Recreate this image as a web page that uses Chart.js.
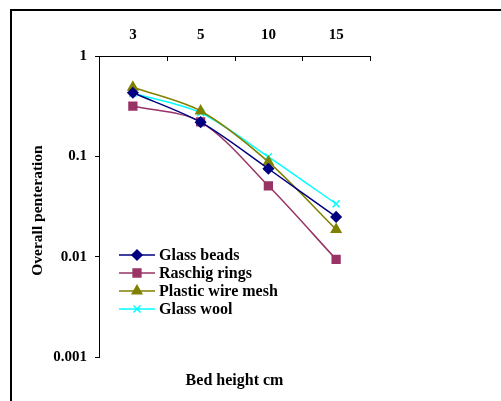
<!DOCTYPE html>
<html>
<head>
<meta charset="utf-8">
<script src="https://cdn.jsdelivr.net/npm/chart.js@4/dist/chart.umd.min.js"></script>
<style>
  html, body { margin: 0; padding: 0; background: #fff; }
  #wrap { width: 501px; height: 401px; position: relative; }
</style>
</head>
<body>
<div id="wrap"><canvas id="myChart" width="501" height="401"></canvas></div>
<script>
// bed heights (cm) and penetration per packing
const bedHeights = ['3', '5', '10', '15'];
const glassBeads = [0.43, 0.219, 0.0752, 0.0249];
const raschigRings = [0.317, 0.221, 0.0508, 0.0094];
const plasticMesh = [0.488, 0.283, 0.088, 0.0187];
const glassWool = [0.425, 0.272, 0.099, 0.0336];
const yTicks = [0.001, 0.01, 0.1, 1];
const yTickLabels = ['0.001', '0.01', '0.1', '1'];

const serif = '"Liberation Serif", "Times New Roman", serif';

const series = [
  { label: 'Glass beads', data: glassBeads, color: '#000080', style: 'rectRot', r: 5 },
  { label: 'Raschig rings', data: raschigRings, color: '#993366', style: 'rect', r: 5.5 },
  { label: 'Plastic wire mesh', data: plasticMesh, color: '#808000', style: 'triangle', r: 5.5 },
  { label: 'Glass wool', data: glassWool, color: '#00FFFF', style: 'crossRot', r: 5 }
];

function drawMarker(ctx, s, x, y) {
  ctx.save();
  ctx.fillStyle = s.color;
  ctx.strokeStyle = s.color;
  ctx.lineWidth = 1.5;
  if (Chart.helpers && Chart.helpers.drawPoint) {
    Chart.helpers.drawPoint(ctx, { pointStyle: s.style, radius: s.r, rotation: 0, borderWidth: 1.5 }, x, y);
  }
  ctx.restore();
}

// frame, inward ticks on the top axis, bottom title, y title and legend
const extras = {
  id: 'extras',
  beforeDraw(chart) {
    const ctx = chart.ctx;
    ctx.save();
    ctx.strokeStyle = '#000';
    ctx.lineWidth = 2;
    ctx.beginPath();
    ctx.moveTo(11, 401);
    ctx.lineTo(11, 10);
    ctx.lineTo(501, 10);
    ctx.stroke();
    ctx.restore();
  },
  afterDraw(chart) {
    const ctx = chart.ctx;
    const xs = chart.scales.x;
    const area = chart.chartArea;
    ctx.save();
    // tick marks between categories, pointing down
    ctx.strokeStyle = '#000';
    ctx.lineWidth = 1;
    const step = (xs.getPixelForValue(1) - xs.getPixelForValue(0));
    for (let i = 0; i <= bedHeights.length; i++) {
      const px = Math.round(xs.getPixelForValue(0) - step / 2 + i * step) + 0.5;
      ctx.beginPath();
      ctx.moveTo(px, area.top);
      ctx.lineTo(px, area.top + 5);
      ctx.stroke();
    }
    ctx.fillStyle = '#000';
    ctx.font = 'bold 16px ' + serif;
    ctx.textAlign = 'center';
    ctx.textBaseline = 'middle';
    ctx.fillText('Bed height cm', (area.left + area.right) / 2, 381);
    ctx.save();
    ctx.font = 'bold 15.5px ' + serif;
    ctx.translate(38, (area.top + area.bottom) / 2 + 4);
    ctx.rotate(-Math.PI / 2);
    ctx.fillText('Overall penteration', 0, 0);
    ctx.restore();

    // legend
    ctx.textAlign = 'left';
    series.forEach((s, i) => {
      const y = 255 + i * 18;
      ctx.strokeStyle = s.color;
      ctx.lineWidth = 1.5;
      ctx.beginPath();
      ctx.moveTo(119, y);
      ctx.lineTo(155, y);
      ctx.stroke();
      drawMarker(ctx, s, 137, y);
      ctx.fillStyle = '#000';
      ctx.fillText(s.label, 159, y + 1);
    });
    ctx.restore();
  }
};

const ctx = document.getElementById('myChart').getContext('2d');
const myChart = new Chart(ctx, {
  type: 'line',
  data: {
    labels: bedHeights,
    datasets: series.map(s => ({
      label: s.label,
      data: s.data,
      borderColor: s.color,
      backgroundColor: s.color,
      pointBackgroundColor: s.color,
      pointBorderColor: s.color,
      pointStyle: s.style,
      pointRadius: s.r,
      pointBorderWidth: 1.5,
      borderWidth: 1.5,
      tension: 0.3,
      fill: false
    }))
  },
  options: {
    responsive: false,
    animation: false,
    devicePixelRatio: 1,
    layout: { padding: { left: 0, top: 0, right: 131, bottom: 44 } },
    plugins: {
      legend: { display: false },
      tooltip: { enabled: false }
    },
    scales: {
      x: {
        type: 'category',
        position: 'top',
        offset: true,
        grid: { display: true, drawOnChartArea: false, drawTicks: false, offset: true },
        border: { display: true, color: '#000', width: 1 },
        ticks: { color: '#000', padding: 12, font: { family: serif, size: 15, weight: 'bold' } },
        afterFit(scale) { scale.height = 56; }
      },
      y: {
        type: 'logarithmic',
        min: 0.001,
        max: 1,
        grid: { display: true, drawOnChartArea: false, drawTicks: true, tickLength: 4, color: '#000' },
        border: { display: true, color: '#000', width: 1 },
        afterBuildTicks(scale) { scale.ticks = yTicks.map(v => ({ value: v })); },
        ticks: {
          color: '#000',
          padding: 8,
          font: { family: serif, size: 15, weight: 'bold' },
          callback(value) {
            const i = yTicks.indexOf(value);
            return i >= 0 ? yTickLabels[i] : '';
          }
        },
        afterFit(scale) { scale.width = 99; }
      }
    }
  },
  plugins: [extras]
});
</script>
</body>
</html>
